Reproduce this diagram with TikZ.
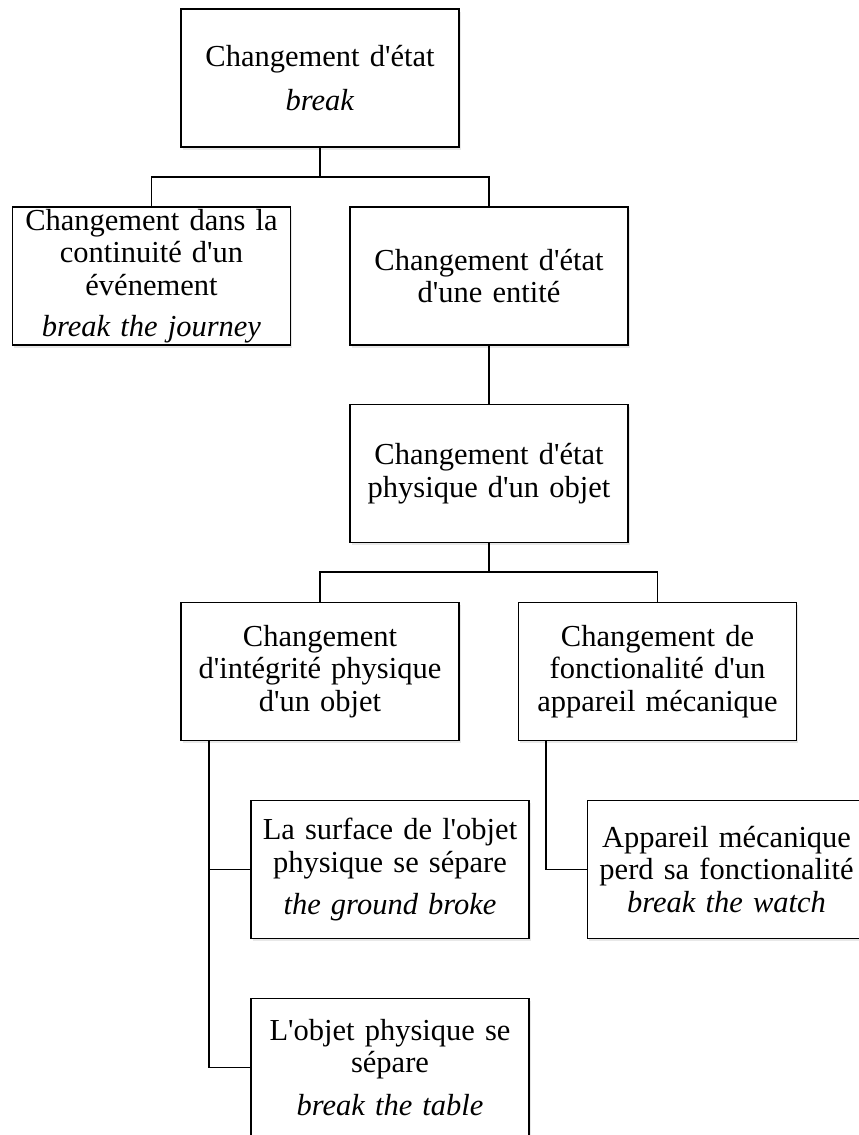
\documentclass[tikz,border=0pt]{standalone}
\usepackage{fontspec}
\setmainfont{Liberation Serif}
\usetikzlibrary{shadows}
\newcommand{\ap}{\textquotesingle}
\begin{document}
\begin{tikzpicture}[x=1pt,y=-1pt,
  box/.style={draw=black, line width=1.8pt, fill=white,
    minimum width=278pt, minimum height=138pt, text width=276pt,
    align=center, inner sep=0pt, font=\fontsize{30.5}{32.5}\selectfont,
    drop shadow={opacity=0.18, shadow xshift=1.5pt, shadow yshift=-2.5pt}},
  link/.style={draw=black, line width=1.8pt}]
\useasboundingbox (0,0) rectangle (859,1135);
\clip (0,0) rectangle (859,1135);
\fill[white] (0,0) rectangle (859,1135);

\node[box] (top) at (320,78) {Changement d\ap état\\[11pt]\textit{break}};
\node[box] (evt) at (151.5,276) {Changement dans la\\continuité d\ap un\\événement\\[9pt]\textit{break the journey}};
\node[box] (ent) at (489,276) {Changement d\ap état\\d\ap une entité};
\node[box] (phy) at (489,473.5) {Changement d\ap état\\physique d\ap un objet};
\node[box] (integ) at (320,671.5) {Changement\\d\ap intégrité physique\\d\ap un objet};
\node[box] (fonc) at (657.5,671.5) {Changement de\\fonctionalité d\ap un\\appareil mécanique};
\node[box] (surf) at (390,869.5) {La surface de l\ap objet\\physique se sépare\\[10pt]\textit{the ground broke}};
\node[box] (watch) at (726.5,869.5) {Appareil mécanique\\perd sa fonctionalité\\\textit{break the watch}};
\node[box] (table) at (390,1067.5) {L\ap objet physique se\\sépare\\[10pt]\textit{break the table}};

\coordinate (j1) at (320,177);
\coordinate (j2) at (489,572);
\draw[link] (top.south) -- (j1);
\draw[link] (evt.north) |- (j1) -| (ent.north);
\draw[link] (ent.south) -- (phy.north);
\draw[link] (phy.south) -- (j2);
\draw[link] (integ.north) |- (j2) -| (fonc.north);
\draw[link] ([xshift=-111pt]integ.south) |- (table.west);
\draw[link] ([xshift=-111pt]integ.south) |- (surf.west);
\draw[link] ([xshift=-111.5pt]fonc.south) |- (watch.west);
\end{tikzpicture}
\end{document}
